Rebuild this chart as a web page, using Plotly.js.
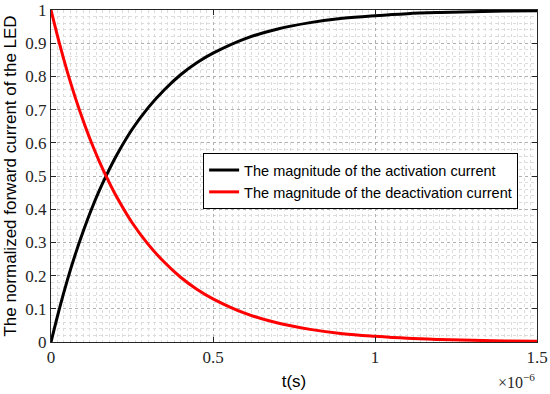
<!DOCTYPE html>
<html>
<head>
<meta charset="utf-8">
<script src="https://cdn.plot.ly/plotly-3.0.1.min.js"></script>
<style>html,body{margin:0;padding:0;background:#fff;}#chart{width:550px;height:394px;}</style>
</head>
<body>
<div id="chart"></div>
<script>
// time in microseconds (scaled to seconds below)
const tMicro = [0, 0.025, 0.05, 0.075, 0.1, 0.125, 0.15, 0.175, 0.2, 0.25, 0.3, 0.35, 0.4, 0.45, 0.5, 0.6, 0.7, 0.8, 0.9, 1.0, 1.1, 1.2, 1.3, 1.4, 1.5];
const activation = [0, 0.097, 0.185, 0.264, 0.335, 0.400, 0.458, 0.510, 0.558, 0.640, 0.706, 0.760, 0.805, 0.841, 0.870, 0.914, 0.943, 0.962, 0.975, 0.983, 0.989, 0.9925, 0.995, 0.9967, 0.9978];
const deactivation = [1, 0.903, 0.815, 0.736, 0.665, 0.600, 0.542, 0.490, 0.442, 0.360, 0.294, 0.240, 0.195, 0.159, 0.130, 0.086, 0.057, 0.038, 0.025, 0.017, 0.011, 0.0075, 0.005, 0.0033, 0.0022];
const xTickVals = [0, 0.5e-6, 1e-6, 1.5e-6];
const xTickText = ['0', '0.5', '1', '1.5'];
const yTickVals = [0, 0.1, 0.2, 0.3, 0.4, 0.5, 0.6, 0.7, 0.8, 0.9, 1];
const yTickText = ['0', '0.1', '0.2', '0.3', '0.4', '0.5', '0.6', '0.7', '0.8', '0.9', '1'];
const seriesNames = ['The magnitude of the activation current', 'The magnitude of the deactivation current'];

const t = tMicro.map(v => v * 1e-6);
const serif = 'Liberation Serif, DejaVu Serif, serif';
const sans = 'Liberation Sans, Arial, sans-serif';

const traces = [
  {x: t, y: activation, name: seriesNames[0], mode: 'lines', line: {color: '#000000', width: 3, shape: 'spline'}},
  {x: t, y: deactivation, name: seriesNames[1], mode: 'lines', line: {color: '#ff0000', width: 3, shape: 'spline'}}
];

const layout = {
  width: 550, height: 394,
  margin: {l: 51, r: 13, t: 10, b: 52},
  paper_bgcolor: '#ffffff', plot_bgcolor: '#ffffff',
  showlegend: true,
  legend: {x: 0.313, y: 0.569, xanchor: 'left', yanchor: 'top', bgcolor: '#ffffff', bordercolor: '#000000', borderwidth: 1,
           font: {family: sans, size: 14.5, color: '#000'}, tracegroupgap: 0, itemwidth: 30},
  xaxis: {
    range: [0, 1.5e-6], tickmode: 'array', tickvals: xTickVals, ticktext: xTickText,
    ticks: 'inside', ticklen: 5, tickcolor: '#262626', showline: true, linecolor: '#262626', linewidth: 1, mirror: 'ticks',
    showgrid: true, gridcolor: '#b0b0b0', griddash: 'dot', gridwidth: 1,
    minor: {dtick: 0.02e-6, showgrid: true, gridcolor: '#dcdcdc', griddash: 'dot', gridwidth: 1, ticks: ''},
    zeroline: false, tickfont: {family: serif, size: 17, color: '#262626'},
    title: {text: 't(s)', font: {family: sans, size: 17, color: '#000'}, standoff: 8},
    automargin: false
  },
  yaxis: {
    range: [0, 1], tickmode: 'array', tickvals: yTickVals, ticktext: yTickText,
    ticks: 'inside', ticklen: 5, tickcolor: '#262626', showline: true, linecolor: '#262626', linewidth: 1, mirror: 'ticks',
    showgrid: true, gridcolor: '#b0b0b0', griddash: 'dot', gridwidth: 1,
    minor: {dtick: 0.02, showgrid: true, gridcolor: '#dcdcdc', griddash: 'dot', gridwidth: 1, ticks: ''},
    zeroline: false, tickfont: {family: serif, size: 17, color: '#262626'},
    title: {text: 'The normalized forward current of the LED', font: {family: sans, size: 17, color: '#000'}, standoff: 4},
    automargin: false
  },
  annotations: [
    {xref: 'paper', yref: 'paper', x: 1.0, y: 0, xanchor: 'right', yanchor: 'top', yshift: -27, xshift: 0,
     text: '×10<sup>−6</sup>', showarrow: false, font: {family: serif, size: 16, color: '#262626'}}
  ]
};

Plotly.newPlot('chart', traces, layout, {displayModeBar: false, staticPlot: true});
</script>
</body>
</html>
